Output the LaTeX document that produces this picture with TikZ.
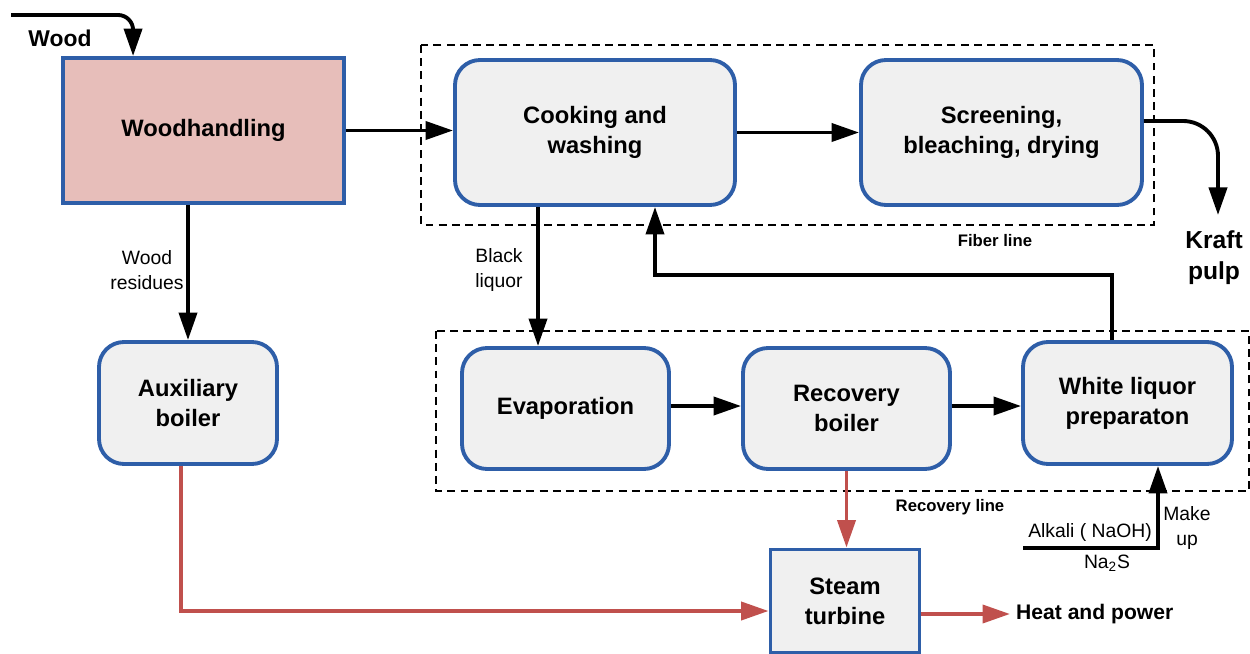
\documentclass[tikz,border=0pt]{standalone}
\usepackage{fontspec}
\setmainfont{Liberation Sans}
\usetikzlibrary{arrows.meta}
\definecolor{boxblue}{HTML}{2E5EA8}
\definecolor{boxgrey}{HTML}{F0F0F0}
\definecolor{woodpink}{HTML}{E7BEBA}
\definecolor{heatred}{HTML}{C0504D}
\tikzset{
	unit/.style={draw=boxblue, line width=2.2pt, fill=boxgrey, inner sep=0pt, align=center, font=\fontsize{13.5}{17}\selectfont\bfseries},
	rbox/.style={unit, rounded corners=0.5cm},
	flow/.style={line width=2.2pt, -{Triangle[length=0.55cm, width=0.36cm]}},
	heat/.style={flow, draw=heatred, -{Triangle[length=0.55cm, width=0.36cm, fill=heatred]}},
	lbl/.style={align=center, font=\fontsize{11}{14}\selectfont},
	bline/.style={font=\fontsize{9.5}{11}\selectfont\bfseries},
	fence/.style={line width=0.7pt, dash pattern=on 4.5pt off 3pt}
}

\begin{document}
\begin{tikzpicture}
				\useasboundingbox (0,0) rectangle (25,-13.08);
				
				\draw[fence] (8.42,-0.9) rectangle (23.08,-4.5);
				\draw[fence] (8.72,-6.62) rectangle (24.98,-9.82);
				\node[bline] (fiber) at (19.9,-4.82) {Fiber line};
				\node[bline] (recline) at (19.0,-10.14) {Recovery line};
				
				\node[unit, fill=woodpink, minimum width=5.62cm, minimum height=2.9cm] (wh) at (4.07,-2.61) {Woodhandling};
				\node[rbox, minimum width=5.6cm, minimum height=2.9cm] (cook) at (11.9,-2.65) {Cooking and\\washing};
				\node[rbox, minimum width=5.62cm, minimum height=2.9cm] (screen) at (20.03,-2.65) {Screening,\\bleaching, drying};
				\node[rbox, minimum width=3.56cm, minimum height=2.44cm] (aux) at (3.76,-8.06) {Auxiliary\\boiler};
				\node[rbox, minimum width=4.14cm, minimum height=2.42cm] (evap) at (11.31,-8.17) {Evaporation};
				\node[rbox, minimum width=4.14cm, minimum height=2.42cm] (rec) at (16.93,-8.17) {Recovery\\boiler};
				\node[rbox, minimum width=4.18cm, minimum height=2.44cm] (white) at (22.55,-8.06) {White liquor\\preparaton};
				\node[unit, minimum width=2.98cm, minimum height=2.06cm] (steam) at (16.9,-12.02) {Steam\\turbine};
				
				\coordinate (woodin) at (0.22,-0.3);
				\node[font=\fontsize{13}{15}\selectfont\bfseries] (wood) at (1.2,-0.76) {Wood};
				\draw[flow, rounded corners=0.3cm] (woodin) -| ([xshift=1.44cm]wh.north west);
				
				\draw[flow] (wh.east) -- (wh.east -| cook.west);
				\draw[flow] (cook.east) -- (screen.west);
				
				\coordinate (kraft) at (24.36,-4.3);
				\node[align=center, font=\fontsize{14}{17.5}\selectfont\bfseries] (pulp) at (24.28,-5.16) {Kraft\\pulp};
				\draw[flow, rounded corners=0.7cm] ([yshift=0.23cm]screen.east) -| (kraft);
				
				\node[lbl] (res) at (2.94,-5.4) {Wood\\residues};
				\draw[flow] (aux.north |- wh.south) -- (aux.north);
				
				\node[lbl] (black) at (9.98,-5.4) {Black\\liquor};
				\draw[flow] ([xshift=-0.55cm]evap.north |- cook.south) -- ([xshift=-0.55cm]evap.north);
				
				\draw[flow] ([yshift=0.05cm]evap.east) -- ([yshift=0.05cm]rec.west);
				\draw[flow] ([yshift=0.05cm]rec.east) -- ([yshift=0.05cm]rec.east -| white.west);
				
				\coordinate (ret) at (13.1,-5.5);
				\draw[flow] ([xshift=-0.31cm]white.north) |- (ret) -- (ret |- cook.south);
				
				\coordinate (alk) at (20.46,-10.96);
				\node[lbl] (naoh) at (21.8,-10.64) {Alkali ( NaOH)};
				\node[lbl] (nas) at (22.14,-11.26) {Na\textsubscript{2}S};
				\node[lbl] (makeup) at (23.74,-10.56) {Make\\up};
				\draw[flow] (alk) -| ([xshift=0.61cm]white.south);
				
				\draw[heat] (rec.south) -- (rec.south |- steam.north);
				\draw[heat] ([xshift=-0.14cm]aux.south) |- ([yshift=-0.2cm]steam.west);
				
				\node[anchor=west, font=\fontsize{12}{14}\selectfont\bfseries] (power) at (20.2,-12.28) {Heat and power};
				\draw[heat] (steam.east |- power.west) -- (power.west);
			\end{tikzpicture}
\end{document}
